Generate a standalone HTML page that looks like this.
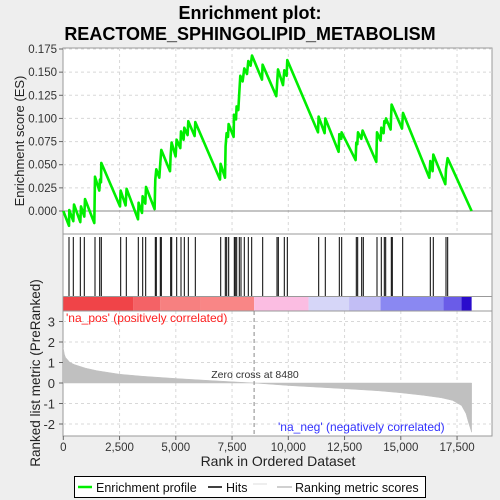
<!DOCTYPE html>
<html><head><meta charset="utf-8"><style>
body{margin:0;background:#eeeeee;}
svg{display:block;font-family:"Liberation Sans",sans-serif;}
</style></head><body>
<svg id="c" width="500" height="500" viewBox="0 0 500 500">
<rect x="0" y="0" width="500" height="500" fill="#eeeeee"/>
<text x="250" y="19" text-anchor="middle" font-size="18" font-weight="bold">Enrichment plot:</text>
<text x="250" y="40" text-anchor="middle" font-size="18" font-weight="bold">REACTOME_SPHINGOLIPID_METABOLISM</text>
<g id="g"></g>
</svg>
<script>
const hitRanks=[253,444,756,933,1409,1618,1689,2551,2800,3333,3529,3662,4089,4133,4311,4356,4773,4818,5040,5231,5378,5556,5867,6996,7200,7262,7351,7600,7644,7707,7822,7898,8044,8222,8373,8862,9498,9556,9822,9956,11351,11644,12267,12373,13022,13084,13262,13333,13942,14133,14267,14329,14578,14622,15084,16311,16444,17009,17084];
const esRanks=[0,252,267,444,474,756,785,933,963,1378,1407,1600,1630,1674,1689,2519,2548,2770,2815,3319,3348,3496,3526,3644,3674,4059,4089,4133,4267,4311,4356,4741,4770,4815,4993,5037,5200,5230,5348,5378,5526,5556,5837,5867,6963,6993,7185,7215,7259,7319,7348,7570,7585,7674,7704,7778,7822,7867,7970,8044,8163,8222,8326,8385,8830,8859,9467,9541,9763,9822,9926,9956,11319,11348,11615,11644,12237,12267,12356,12370,12993,13022,13067,13096,13244,13304,13911,13941,14104,14133,14237,14267,14311,14341,14548,14593,15052,15096,16267,16311,16415,16444,16978,17007,17081,18148];
const esValues=[0,-0.016,0.001,-0.011,0.007,-0.012,0.005,-0.006,0.013,-0.013,0.037,0.022,0.034,0.031,0.052,0.005,0.022,0.006,0.024,-0.009,0.009,-0.002,0.016,0.008,0.026,0.002,0.034,0.045,0.036,0.052,0.066,0.043,0.059,0.074,0.059,0.077,0.068,0.086,0.077,0.090,0.082,0.097,0.081,0.096,0.034,0.051,0.036,0.070,0.084,0.080,0.094,0.080,0.104,0.099,0.113,0.109,0.128,0.146,0.140,0.154,0.148,0.162,0.157,0.168,0.142,0.158,0.124,0.153,0.136,0.152,0.146,0.163,0.085,0.102,0.084,0.100,0.064,0.083,0.078,0.085,0.055,0.074,0.072,0.085,0.078,0.087,0.053,0.085,0.076,0.090,0.084,0.097,0.095,0.100,0.088,0.115,0.089,0.106,0.036,0.054,0.043,0.061,0.029,0.045,0.057,0];
const metricRanks=[0,50,100,300,500,1000,1500,2500,3500,5000,6500,8480,10000,12500,14000,15000,16000,16800,17300,17700,17900,18000,18148];
const metricValues=[1.7,1.4,1.25,1.0,0.9,0.72,0.6,0.43,0.33,0.22,0.12,0,-0.12,-0.28,-0.38,-0.48,-0.6,-0.72,-0.85,-1.1,-1.5,-1.9,-2.4];
const esTicks=[0,0.025,0.05,0.075,0.1,0.125,0.15,0.175];
const esTickLabels=["0.000","0.025","0.050","0.075","0.100","0.125","0.150","0.175"];
const metricTicks=[3,2,1,0,-1,-2];
const xTicks=[0,2500,5000,7500,10000,12500,15000,17500];
const xTickLabels=["0","2,500","5,000","7,500","10,000","12,500","15,000","17,500"];
const zeroCross=8480;
const barStops=[0,3100,4300,6100,8480,10900,12700,14100,16900,17700,18148];
const barColors=["#f04448","#f46266","#f78080","#f98686","#fbbde2","#d6d6f8","#c2bef5","#8a88f2","#6a5ce8","#2a0ccc","#5810a8"];

const NS="http://www.w3.org/2000/svg";
const g=document.getElementById('g');
const X0=63.3,XR=0.0225,L=63,R=492;
const xs=r=>X0+r*XR;
const ye=v=>211-v*925.7;
const ym=v=>383-v*20.5;
function mk(t,a,txt){const e=document.createElementNS(NS,t);for(const k in a)e.setAttribute(k,a[k]);if(txt!==undefined)e.textContent=txt;g.appendChild(e);return e;}

let e=mk('rect',{x:L,y:48,width:R-L,height:186,fill:'#fff',stroke:'#999'});


e=mk('rect',{x:L,y:234,width:R-L,height:202,fill:'#fff',stroke:'#999'});



xTicks.forEach((t,i)=>{if(i===0)return;
 e=mk('line',{x1:xs(t),x2:xs(t),y1:48,y2:234,stroke:'#d8d8d8','stroke-dasharray':'3,3'});
 
 
 e=mk('line',{x1:xs(t),x2:xs(t),y1:311,y2:436,stroke:'#d8d8d8','stroke-dasharray':'3,3'});
 
 
});
esTicks.forEach((t,i)=>{
 if(t!==0){e=mk('line',{x1:L,x2:R,y1:ye(t),y2:ye(t),stroke:'#d8d8d8','stroke-dasharray':'3,3'});
 
 }
 e=mk('line',{x1:L-4,x2:L,y1:ye(t),y2:ye(t),stroke:'#666'});
 
 
 e=mk('text',{x:L-6,y:ye(t)+4,'text-anchor':'end','font-size':'11.5',fill:'#333'},esTickLabels[i]);
 
 
});
e=mk('line',{x1:L,x2:R,y1:ye(0),y2:ye(0),stroke:'#888'});


metricTicks.forEach(t=>{
 if(t!==0){e=mk('line',{x1:L,x2:R,y1:ym(t),y2:ym(t),stroke:'#d8d8d8','stroke-dasharray':'3,3'});
 
 }
 e=mk('line',{x1:L-4,x2:L,y1:ym(t),y2:ym(t),stroke:'#666'});
 
 
 e=mk('text',{x:L-8,y:ym(t)+5,'text-anchor':'end','font-size':'13',fill:'#333'},String(t));
 
 
});
xTicks.forEach((t,i)=>{
 e=mk('line',{x1:xs(t),x2:xs(t),y1:436,y2:440,stroke:'#666'});
 
 
 e=mk('text',{x:xs(t),y:451,'text-anchor':'middle','font-size':'11.5',fill:'#333'},xTickLabels[i]);
 
 
});

let pts=esRanks.map((r,i)=>xs(r).toFixed(1)+','+ye(esValues[i]).toFixed(1)).join(' ');
e=mk('polyline',{points:pts,fill:'none',stroke:'#00ee00','stroke-width':'2.6','stroke-linejoin':'round'});



hitRanks.forEach(r=>{
 e=mk('line',{x1:xs(r),x2:xs(r),y1:237,y2:296,stroke:'#000','stroke-width':'1'});
 
 
});

for(let i=0;i<barColors.length;i++){
 e=mk('rect',{x:xs(barStops[i]),y:297,width:xs(barStops[i+1])-xs(barStops[i]),height:14,fill:barColors[i]});
 
 
}
e=mk('line',{x1:L,x2:R,y1:296.5,y2:296.5,stroke:'#999'});


e=mk('line',{x1:L,x2:R,y1:311,y2:311,stroke:'#999'});



let mp=[xs(metricRanks[0])+','+ym(0)];
metricRanks.forEach((r,i)=>mp.push(xs(r).toFixed(1)+','+ym(metricValues[i]).toFixed(1)));
mp.push(xs(metricRanks[metricRanks.length-1])+','+ym(0));
e=mk('polygon',{points:mp.join(' '),fill:'#c0c0c0',stroke:'#c0c0c0','stroke-width':'0.5'});


e=mk('line',{x1:xs(zeroCross),x2:xs(zeroCross),y1:311,y2:436,stroke:'#888','stroke-dasharray':'4,3'});



e=mk('text',{x:66,y:322,'font-size':'12',fill:'#ff2020'},"'na_pos' (positively correlated)");


e=mk('text',{x:255,y:378,'text-anchor':'middle','font-size':'10.5',fill:'#333'},"Zero cross at 8480");


e=mk('text',{x:278,y:431,'font-size':'12',fill:'#3333ff'},"'na_neg' (negatively correlated)");



e=mk('text',{x:278,y:466,'text-anchor':'middle','font-size':'14',fill:'#222'},"Rank in Ordered Dataset");


e=mk('text',{x:0,y:0,'text-anchor':'middle','font-size':'13',fill:'#222',transform:'translate(24,141) rotate(-90)'},"Enrichment score (ES)");


e=mk('text',{x:0,y:0,'text-anchor':'middle','font-size':'13.5',fill:'#222',transform:'translate(40,373) rotate(-90)'},"Ranked list metric (PreRanked)");



e=mk('rect',{x:74.5,y:476.5,width:351,height:21,fill:'#fff',stroke:'#000'});


e=mk('line',{x1:78,x2:92,y1:487,y2:487,stroke:'#00ee00','stroke-width':'2.5'});


e=mk('text',{x:96,y:492,'font-size':'12.5',fill:'#111'},"Enrichment profile");


e=mk('line',{x1:208,x2:222,y1:487,y2:487,stroke:'#000','stroke-width':'1.5'});


e=mk('text',{x:226,y:492,'font-size':'12.5',fill:'#111'},"Hits");


e=mk('line',{x1:253,x2:267,y1:484,y2:484,stroke:'#ddd','stroke-width':'1'});


e=mk('line',{x1:277,x2:292,y1:487,y2:487,stroke:'#c0c0c0','stroke-width':'1.5'});


e=mk('text',{x:295,y:492,'font-size':'12.5',fill:'#111'},"Ranking metric scores");


</script>
</body></html>
